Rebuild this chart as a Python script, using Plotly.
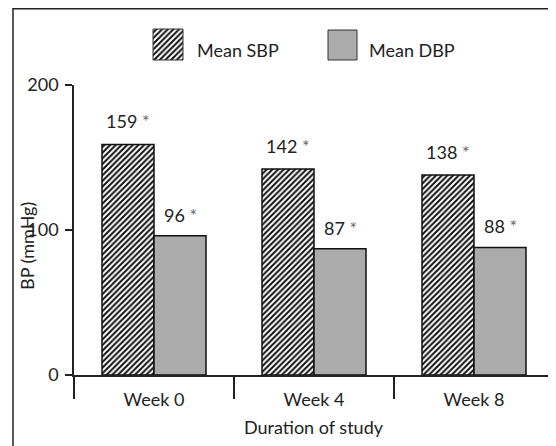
import plotly.graph_objects as go

weeks = ["Week 0", "Week 4", "Week 8"]
mean_sbp = [159, 142, 138]
mean_dbp = [96, 87, 88]
sbp_labels = ["159", "142", "138"]
dbp_labels = ["96", "87", "88"]
y_ticks = [0, 100, 200]

W, H = 556, 446
OX, OY = 8, 8  # page body margin offset
FONT = "Lato"
TXT = "#222222"
GRAY = "#ababab"
HATCH = dict(shape="/", size=4, solidity=0.5, fgcolor="#111111", bgcolor="white")

def px_x(v):
    return (v - OX) / W

def px_y(v):
    return 1 - (v - OY) / H

fig = go.Figure()

fig.add_trace(go.Bar(
    name="Mean SBP", x=weeks, y=mean_sbp,
    marker=dict(color="white", line=dict(color="#111111", width=1.5), pattern=HATCH),
    showlegend=False, xaxis="x", yaxis="y",
))
fig.add_trace(go.Bar(
    name="Mean DBP", x=weeks, y=mean_dbp,
    marker=dict(color=GRAY, line=dict(color="#111111", width=1.5)),
    showlegend=False, xaxis="x", yaxis="y",
))

# legend swatches drawn as bars on a pixel-scaled overlay axis pair
fig.add_trace(go.Bar(
    x=[168], y=[31], base=[29], width=[30],
    marker=dict(color="white", line=dict(color="#333333", width=1), pattern=HATCH),
    showlegend=False, xaxis="x2", yaxis="y2", hoverinfo="skip",
))
fig.add_trace(go.Bar(
    x=[342.5], y=[30], base=[30], width=[29],
    marker=dict(color=GRAY, line=dict(color="#333333", width=1)),
    showlegend=False, xaxis="x2", yaxis="y2", hoverinfo="skip",
))

annotations = []
off = 0.1625
for i in range(len(weeks)):
    annotations.append(dict(
        x=i - off, y=mean_sbp[i], xref="x", yref="y",
        text=sbp_labels[i] + " <span style='color:#666666'>*</span>",
        showarrow=False, yanchor="bottom", yshift=10,
        font=dict(family=FONT, size=18, color=TXT)))
    annotations.append(dict(
        x=i + off, y=mean_dbp[i], xref="x", yref="y",
        text=dbp_labels[i] + " <span style='color:#666666'>*</span>",
        showarrow=False, yanchor="bottom", yshift=8,
        font=dict(family=FONT, size=18, color=TXT)))

annotations.append(dict(
    x=px_x(195), y=px_y(50), xref="paper", yref="paper", text="Mean SBP",
    showarrow=False, xanchor="left", yanchor="middle",
    font=dict(family=FONT, size=18, color=TXT)))
annotations.append(dict(
    x=px_x(367), y=px_y(50), xref="paper", yref="paper", text="Mean DBP",
    showarrow=False, xanchor="left", yanchor="middle",
    font=dict(family=FONT, size=18, color=TXT)))
annotations.append(dict(
    x=px_x(27), y=px_y(246), xref="paper", yref="paper", text="BP (mmHg)",
    showarrow=False, xanchor="center", yanchor="middle", textangle=-90,
    font=dict(family=FONT, size=18, color=TXT)))
annotations.append(dict(
    x=px_x(314), y=px_y(427), xref="paper", yref="paper", text="Duration of study",
    showarrow=False, xanchor="center", yanchor="middle",
    font=dict(family=FONT, size=18, color=TXT)))

fig.update_layout(
    template="none",
    width=W, height=H,
    margin=dict(l=0, r=0, t=0, b=0, pad=0, autoexpand=False),
    paper_bgcolor="white", plot_bgcolor="rgba(0,0,0,0)",
    barmode="group", bargap=0.35, bargroupgap=0,
    showlegend=False,
    annotations=annotations,
    shapes=[dict(type="rect", xref="paper", yref="paper",
                 x0=px_x(13), x1=px_x(W + 20), y0=px_y(H + 20), y1=px_y(OY + 0.8),
                 line=dict(color="#222222", width=1.5), fillcolor="rgba(0,0,0,0)", layer="below")],
    xaxis=dict(
        domain=[px_x(74), px_x(554)], range=[-0.5, 2.5], type="category",
        automargin=False,
        showline=True, linecolor="#222222", linewidth=1.5,
        ticks="outside", tickson="boundaries", ticklen=22, tickwidth=1.5, tickcolor="#222222",
        ticklabelstandoff=8,
        showgrid=False, zeroline=False,
        tickfont=dict(family=FONT, size=18, color=TXT),
    ),
    yaxis=dict(
        domain=[px_y(375), px_y(85)], range=[0, 200],
        automargin=False,
        tickvals=y_ticks, ticktext=[str(v) for v in y_ticks],
        showline=True, linecolor="#222222", linewidth=1.5,
        ticks="outside", ticklen=7, tickwidth=1.5, tickcolor="#222222",
        ticklabelstandoff=3,
        showgrid=False, zeroline=False,
        tickfont=dict(family=FONT, size=18, color=TXT),
    ),
    xaxis2=dict(domain=[0, 1], range=[OX, W + OX], visible=False, anchor="y2", automargin=False),
    yaxis2=dict(domain=[0, 1], range=[H + OY, OY], visible=False, anchor="x2", automargin=False),
)

fig.write_html("out.html")
